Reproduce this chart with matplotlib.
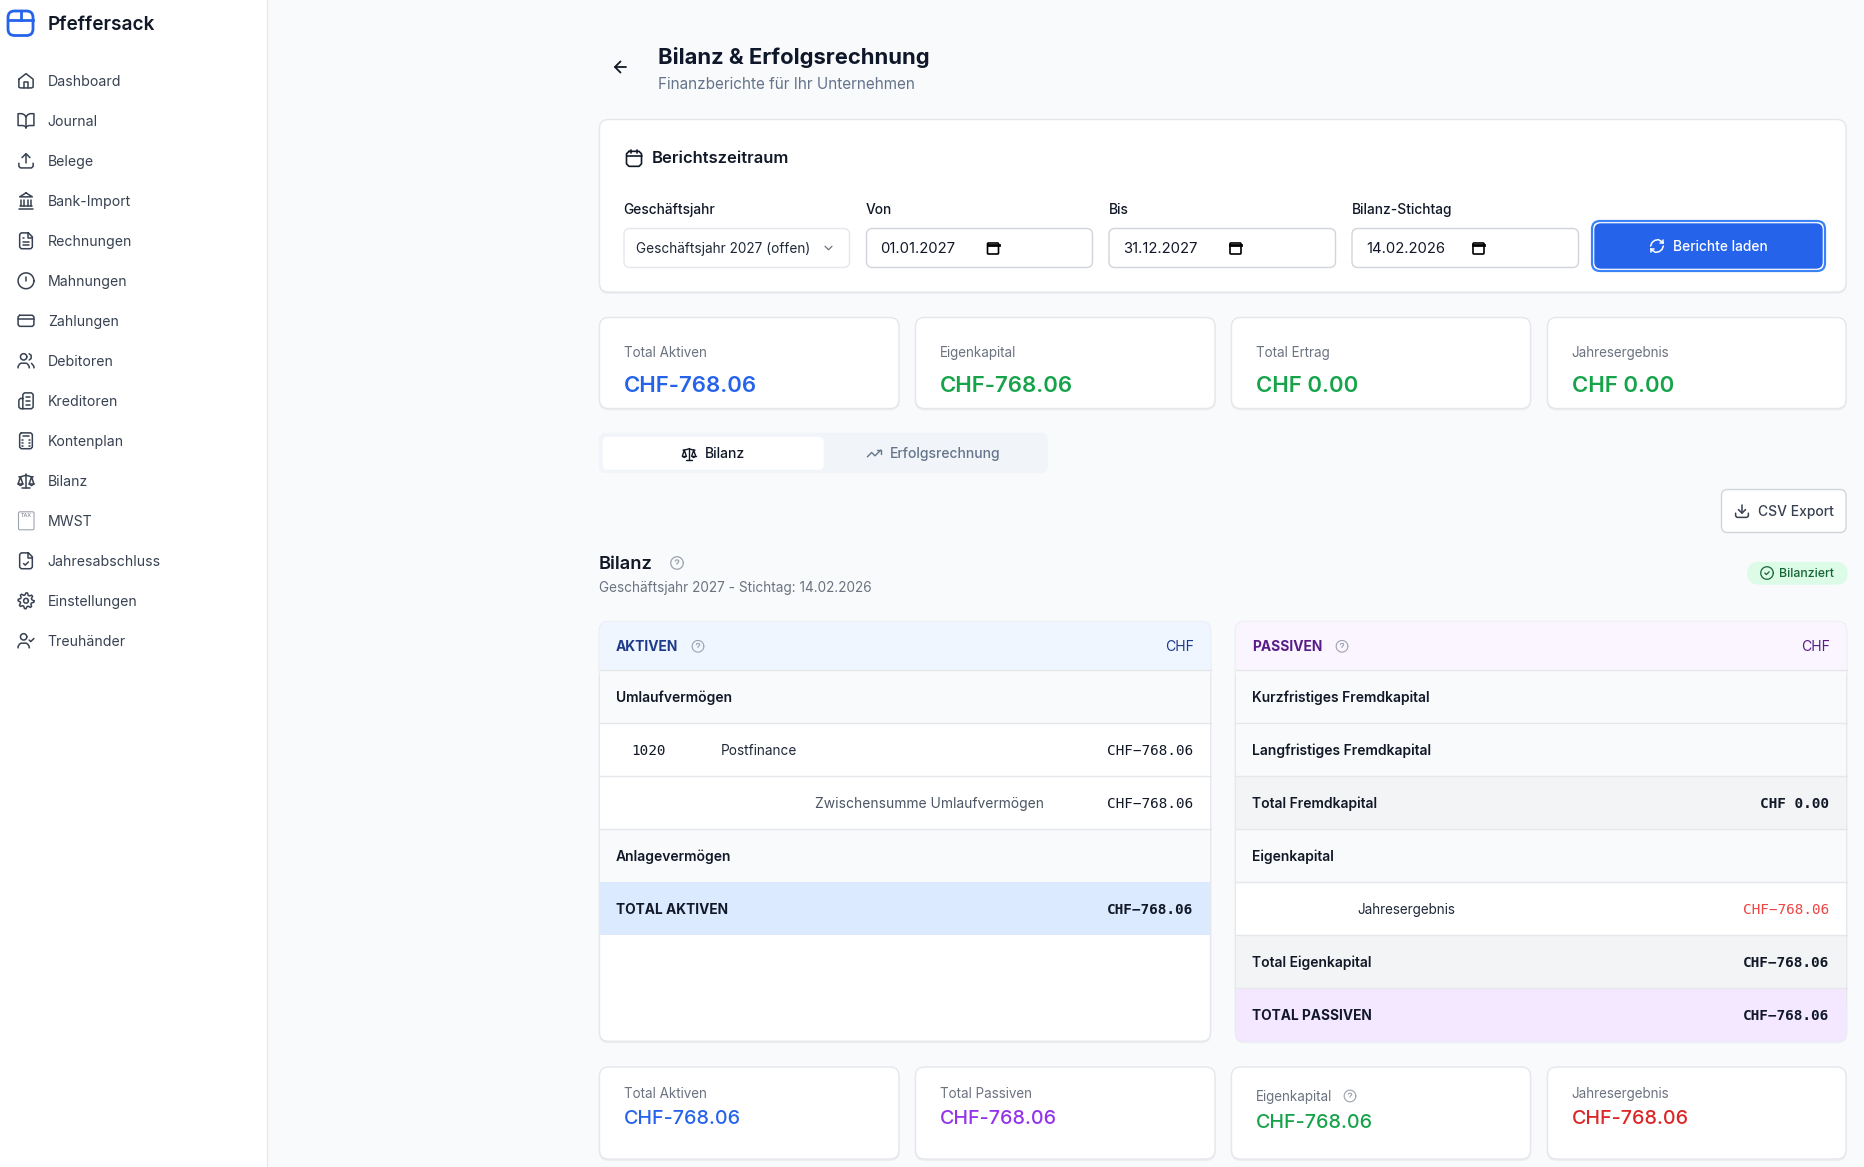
import numpy as np
from matplotlib import pyplot as plt
from matplotlib.patches import FancyBboxPatch

plt.rcParams["font.family"] = ["Inter", "DejaVu Sans"]

NAV_ITEMS = ["Dashboard", "Journal", "Belege", "Bank-Import", "Rechnungen", "Mahnungen", "Zahlungen",
             "Debitoren", "Kreditoren", "Kontenplan", "Bilanz", "MWST", "Jahresabschluss",
             "Einstellungen", "Treuhänder"]
FIELD_LABELS = ["Geschäftsjahr", "Von", "Bis", "Bilanz-Stichtag"]
FIELD_VALUES = ["Geschäftsjahr 2027 (offen)", "01.01.2027", "31.12.2027", "14.02.2026"]
TOP_LABELS = ["Total Aktiven", "Eigenkapital", "Total Ertrag", "Jahresergebnis"]
TOP_VALUES = ["CHF-768.06", "CHF-768.06", "CHF 0.00", "CHF 0.00"]
BOTTOM_LABELS = ["Total Aktiven", "Total Passiven", "Eigenkapital", "Jahresergebnis"]
BOTTOM_VALUES = ["CHF-768.06", "CHF-768.06", "CHF-768.06", "CHF-768.06"]
AKTIVEN_LABELS = ["Umlaufvermögen", "Postfinance", "Zwischensumme Umlaufvermögen", "Anlagevermögen", "TOTAL AKTIVEN"]
AKTIVEN_VALUES = ["", "CHF−768.06", "CHF−768.06", "", "CHF−768.06"]
PASSIVEN_LABELS = ["Kurzfristiges Fremdkapital", "Langfristiges Fremdkapital", "Total Fremdkapital", "Eigenkapital",
                   "Jahresergebnis", "Total Eigenkapital", "TOTAL PASSIVEN"]
PASSIVEN_VALUES = ["", "", "CHF 0.00", "", "CHF−768.06", "CHF−768.06", "CHF−768.06"]

INK = "#111827"
SLATE = "#64748b"
GRAY = "#6b7280"
BORDER = "#e5e7eb"
BLUE = "#2563eb"
GREEN = "#16a34a"
RED = "#dc2626"
PURPLE = "#9333ea"
MONO = "DejaVu Sans Mono"

fig = plt.figure(figsize=(18.64, 11.67), dpi=100, facecolor="#f9fafb")
ax = fig.add_axes([0, 0, 1, 1])
ax.set_xlim(0, 1864)
ax.set_ylim(1167, 0)
ax.axis("off")


def box(x0, y0, x1, y1, fc="white", ec=BORDER, r=9, lw=1.0, z=1):
    ax.add_patch(FancyBboxPatch((x0, y0), x1 - x0, y1 - y0, boxstyle=f"round,pad=0,rounding_size={r}",
                                fc=fc, ec=ec, lw=lw, zorder=z))


def card(x0, y0, x1, y1, r=9):
    box(x0, y0 + 1.2, x1, y1 + 1.2, fc="#eceef2", ec="#eceef2", r=r, z=0.5)
    box(x0, y0, x1, y1, r=r)


def rect(x0, y0, x1, y1, fc):
    ax.fill([x0, x1, x1, x0], [y0, y0, y1, y1], color=fc, lw=0, zorder=2)


def txt(x, y, s, px, color=INK, weight="normal", ha="left", family=None):
    ax.text(x, y - 0.7, s, fontsize=px * 0.72, color=color, weight=weight, ha=ha, va="center_baseline",
            family=family or ["Inter", "DejaVu Sans"], zorder=5)


def circle(cx, cy, r):
    t = np.linspace(0, 2 * np.pi, 40)
    return list(zip(cx + r * np.cos(t), cy + r * np.sin(t)))


def icon(cx, cy, size, paths, color="#374151", lw=1.1):
    k = size / 24
    for p in paths:
        p = np.array(p, dtype=float)
        ax.plot(cx + (p[:, 0] - 12) * k, cy + (p[:, 1] - 12) * k, color=color, lw=lw, zorder=5,
                solid_capstyle="round", solid_joinstyle="round")


def gear():
    t = np.linspace(0, 2 * np.pi, 33)
    r = 10 - 2.6 * (np.arange(33) % 4 >= 2)
    return [list(zip(12 + r * np.cos(t), 12 + r * np.sin(t))), circle(12, 12, 3)]


PERSON = [(2, 21), (2, 19), (4, 16), (6, 15), (12, 15), (14, 16), (16, 19), (16, 21)]
DOC = [(15, 2), (6, 2), (4, 4), (4, 20), (6, 22), (18, 22), (20, 20), (20, 7), (15, 2)]
SCALE = [[(12, 3), (12, 21)], [(7, 21), (17, 21)], [(3, 7), (5, 7), (12, 5), (19, 7), (21, 7)],
         [(5, 7), (2, 16), (5, 18), (8, 16), (5, 7)], [(19, 7), (16, 16), (19, 18), (22, 16), (19, 7)],
         [(2, 16), (8, 16)], [(16, 16), (22, 16)]]
HELP = [circle(12, 12, 10), [(9.2, 9), (10, 7.5), (12, 7), (14, 7.5), (15, 9), (14, 11), (12, 12.5), (12, 14)],
        [(12, 17), (12.01, 17)]]
CALC_DOTS = [[(x, y), (x + 1, y)] for y in (11, 14.5, 18) for x in (7.5, 11.5, 15.5)]
NAV_ICONS = [
    [[(3, 10), (12, 3), (21, 10), (21, 20), (19, 21), (5, 21), (3, 20), (3, 10)], [(9, 21), (9, 13), (15, 13), (15, 21)]],
    [[(12, 7), (12, 21)], [(12, 7), (10, 4.5), (7, 3), (2, 3), (2, 18), (8, 18), (11, 19), (12, 21), (13, 19), (16, 18),
                           (22, 18), (22, 3), (17, 3), (14, 4.5), (12, 7)]],
    [[(3, 15), (3, 19), (5, 21), (19, 21), (21, 19), (21, 15)], [(7, 8), (12, 3), (17, 8)], [(12, 3), (12, 15)]],
    [[(3, 22), (21, 22)], [(6, 18), (6, 11)], [(10, 18), (10, 11)], [(14, 18), (14, 11)], [(18, 18), (18, 11)],
     [(12, 2), (20, 7), (4, 7), (12, 2)], [(4, 19), (20, 19)]],
    [DOC, [(14, 2), (14, 8), (20, 8)], [(8, 13), (16, 13)], [(8, 17), (16, 17)], [(8, 9), (10, 9)]],
    [circle(12, 12, 10), [(12, 7.5), (12, 12.5)], [(12, 16), (12.2, 16)]],
    [[(4, 5), (20, 5), (22, 7), (22, 17), (20, 19), (4, 19), (2, 17), (2, 7), (4, 5)], [(2, 10), (22, 10)]],
    [circle(9, 7, 4), PERSON, [(16, 3.1), (18.5, 5), (18.5, 9), (16, 11)], [(22, 21), (22, 19), (19, 15.2)]],
    [[(8, 22), (8, 4), (10, 2), (19, 2), (21, 4), (21, 20), (19, 22), (5, 22), (3, 20), (3, 11), (5, 9), (8, 9)],
     [(12, 7), (17, 7)], [(12, 12), (17, 12)], [(12, 17), (17, 17)]],
    [[(6, 2), (18, 2), (20, 4), (20, 20), (18, 22), (6, 22), (4, 20), (4, 4), (6, 2)], [(8, 6), (16, 6)]] + CALC_DOTS,
    SCALE,
    None,
    [DOC, [(14, 2), (14, 8), (20, 8)], [(9, 15.5), (11, 17.5), (15, 13.5)]],
    gear(),
    [circle(9, 7, 4), PERSON, [(16, 11), (18, 13), (22, 9)]],
]

# sidebar
rect(0, 0, 267, 1167, "white")
ax.plot([267, 267], [0, 1167], color=BORDER, lw=0.9, zorder=3)
box(8, 11, 33, 35.5, fc="none", ec=BLUE, r=6.5, lw=2.0, z=5)
ax.plot([8, 33], [19.5, 19.5], color=BLUE, lw=2.0, zorder=5)
ax.plot([20.5, 20.5], [11, 19.5], color=BLUE, lw=2.0, zorder=5)
txt(48, 23.5, "Pfeffersack", 19, weight="semibold")
for i, (name, paths) in enumerate(zip(NAV_ITEMS, NAV_ICONS)):
    y = 80.8 + 40 * i
    txt(47.7, y + 0.5, name, 14.1, "#374151")
    if paths:
        icon(26, y, 19, paths)
    else:
        box(18.5, y - 9, 34, y + 9, fc="white", ec="#9ca3af", r=1.5, lw=0.8, z=5)
        txt(26.2, y - 5, "TAX", 5.5, "#6b7280", ha="center")

# page header
icon(620.5, 67, 19, [[(19, 12), (5, 12)], [(12, 19), (5, 12), (12, 5)]], INK, 1.3)
txt(658.5, 56, "Bilanz & Erfolgsrechnung", 22, "#0f172a", "bold")
txt(658.5, 83.5, "Finanzberichte für Ihr Unternehmen", 15.3, SLATE)

# period card
card(599.5, 119.5, 1846, 292)
icon(634, 158, 20, [[(6, 4), (18, 4), (21, 7), (21, 19), (18, 22), (6, 22), (3, 19), (3, 7), (6, 4)], [(8, 2), (8, 6)], [(16, 2), (16, 6)], [(3, 10), (21, 10)]], INK, 1.2)
txt(652, 158, "Berichtszeitraum", 16.6, INK, "semibold")
field_x = [(624, 849.5), (866.5, 1092.5), (1109, 1335.5), (1352, 1578.5)]
for i, (x0, x1) in enumerate(field_x):
    txt(x0 - 0.5, 209.3, FIELD_LABELS[i], 13.8, INK, "medium")
    box(x0, 228.5, x1, 267.5, ec=BORDER if i == 0 else "#d1d5db", r=6)
    if i == 0:
        txt(x0 + 12.5, 248, FIELD_VALUES[i], 13.65, "#1f2937")
        icon(828.5, 248, 14, [[(6, 9), (12, 15), (18, 9)]], "#6b7280", 0.9)
    else:
        txt(x0 + 14, 248, FIELD_VALUES[i], 14.8, "#111827")
        ic = x0 + 126.5
        box(ic - 5.5, 243, ic + 5.5, 254, fc="none", ec="black", r=1, lw=1.2, z=5)
        ax.plot([ic - 5.5, ic + 5.5], [244.8, 244.8], color="black", lw=2.0, zorder=5)
box(1592, 221, 1825, 271, fc="white", ec="#3b82f6", r=8, lw=1.6, z=3)
box(1595, 224, 1822, 268, fc=BLUE, ec=BLUE, r=6, z=4)
icon(1657, 246, 17, [[(3, 12), (5, 7), (9, 4), (14, 3), (19, 6), (21, 8)], [(21, 3), (21, 8), (16, 8)],
                     [(21, 12), (19, 17), (15, 20), (10, 21), (5, 18), (3, 16)], [(8, 16), (3, 16), (3, 21)]], "white", 1.1)
txt(1673, 246, "Berichte laden", 13.8, "white", "medium")

# summary cards
card_x = [(599.5, 899), (915.5, 1215), (1231.5, 1530.5), (1547.5, 1846)]
top_colors = [BLUE, GREEN, GREEN, GREEN]
for i, (x0, x1) in enumerate(card_x):
    card(x0, 317.5, x1, 408.5)
    txt(x0 + 24, 352.5, TOP_LABELS[i], 13.45, GRAY)
    txt(x0 + 24, 384.5, TOP_VALUES[i], 22.2, top_colors[i], "semibold")

# tabs
box(599.5, 433.5, 1047, 472.5, fc="#f1f5f9", ec="#f1f5f9", r=6)
box(603.5, 437.5, 823, 469, fc="white", ec="white", r=4, z=2)
icon(689, 453.5, 16, SCALE, INK, 1.0)
txt(705, 453.5, "Bilanz", 13.9, INK, "medium")
icon(874, 453.5, 16, [[(2, 17), (8.5, 10.5), (13.5, 15.5), (22, 7)], [(16, 7), (22, 7), (22, 13)]], SLATE, 1.0)
txt(890, 453.5, "Erfolgsrechnung", 13.9, SLATE, "medium")

# csv export
box(1721.5, 489.5, 1846, 532.5, ec="#d1d5db", r=6)
icon(1742, 511, 17, [[(3, 15), (3, 19), (5, 21), (19, 21), (21, 19), (21, 15)], [(7, 10), (12, 15), (17, 10)], [(12, 15), (12, 3)]], "#374151", 1.1)
txt(1758, 511, "CSV Export", 13.9, "#374151", "medium")

# section heading
txt(599, 563.5, "Bilanz", 18.3, INK, "semibold")
icon(677, 563, 15, HELP, "#9ca3af", 0.9)
txt(599, 587.5, "Geschäftsjahr 2027 - Stichtag: 14.02.2026", 13.6, GRAY)
box(1748, 562.5, 1847, 584, fc="#dcfce7", ec="#dcfce7", r=10.7)
icon(1767, 573, 15, [circle(12, 12, 10), [(8.5, 12), (11, 14.5), (15.5, 10)]], "#166534", 0.9)
txt(1779.5, 573, "Bilanziert", 12.3, "#166534", "medium")

# balance tables
ROW_EDGES = [670.4 + 53 * i for i in range(8)]


def table_frame(x0, x1, head_fc, title, title_color, help_x):
    card(x0, 621.5, x1, 1041.3)
    box(x0 + 0.5, 622, x1 - 0.5, 680, fc=head_fc, ec=head_fc, r=8.5, z=1.5)
    rect(x0 + 0.5, 640, x1 - 0.5, ROW_EDGES[0], head_fc)
    ax.plot([x0, x1], [ROW_EDGES[0]] * 2, color=BORDER, lw=1, zorder=3)
    txt(x0 + 16.5, 646.5, title, 13.8, title_color, "bold")
    icon(help_x, 646.3, 14, HELP, "#9ca3af", 0.8)
    txt(x1 - 17, 646.5, "CHF", 14, title_color, ha="right")


def table_row(x0, x1, i, fc, line=True):
    rect(x0 + 0.5, ROW_EDGES[i], x1 - 0.5, ROW_EDGES[i + 1], fc)
    if line:
        ax.plot([x0, x1], [ROW_EDGES[i + 1]] * 2, color=BORDER, lw=1, zorder=3)


AK0, AK1 = 599.5, 1210.5
table_frame(AK0, AK1, "#eff6ff", "AKTIVEN", "#1e3a8a", 698)
ak_fills = ["#f9fafb", "white", "white", "#f9fafb", "#dbeafe"]
for i, (label, value) in enumerate(zip(AKTIVEN_LABELS, AKTIVEN_VALUES)):
    y = (ROW_EDGES[i] + ROW_EDGES[i + 1]) / 2
    table_row(AK0, AK1, i, ak_fills[i], line=i < 3)
    if label == "Postfinance":
        txt(631.5, y, "1020", 14.4, INK, family=MONO)
        txt(720.5, y, label, 13.6, "#1f2937")
    elif label.startswith("Zwischensumme"):
        txt(1044, y, label, 13.85, "#4b5563", ha="right")
    elif label.startswith("TOTAL"):
        txt(616, y, label, 13.7, INK, "bold")
    else:
        txt(616, y, label, 13.9, INK, "semibold")
    if value:
        txt(1193.5, y, value, 14.4, INK, "bold" if i == 4 else "normal", "right", MONO)

PA0, PA1 = 1235.5, 1846.5
table_frame(PA0, PA1, "#faf5ff", "PASSIVEN", "#581c87", 1342)
pa_fills = ["#f9fafb", "#f9fafb", "#f3f4f6", "#f9fafb", "white", "#f3f4f6", "#f3e8ff"]
for i, (label, value) in enumerate(zip(PASSIVEN_LABELS, PASSIVEN_VALUES)):
    y = (ROW_EDGES[i] + ROW_EDGES[i + 1]) / 2
    if i == 6:
        box(PA0 + 0.5, ROW_EDGES[i] + 10, PA1 - 0.5, ROW_EDGES[i + 1] - 0.2, fc=pa_fills[i], ec=pa_fills[i], r=8.5, z=1.5)
        rect(PA0 + 0.5, ROW_EDGES[i], PA1 - 0.5, ROW_EDGES[i] + 30, pa_fills[i])
    else:
        table_row(PA0, PA1, i, pa_fills[i])
    if label == "Jahresergebnis":
        txt(1357.5, y, label, 13.5, "#1f2937")
        txt(1829, y, value, 14.4, "#ef4444", "normal", "right", MONO)
    else:
        txt(1252, y, label, 13.7 if i == 6 else 13.9, INK, "bold" if i == 6 else "semibold")
        if value:
            txt(1829, y, value, 14.4, INK, "bold", "right", MONO)

# lower cards
bottom_colors = [BLUE, PURPLE, GREEN, RED]
for i, (x0, x1) in enumerate(card_x):
    card(x0, 1067, x1, 1159)
    off = 3 if i == 2 else 0
    txt(x0 + 24, 1093.5 + off, BOTTOM_LABELS[i], 13.45, GRAY)
    txt(x0 + 24, 1117.5 + off * 1.3, BOTTOM_VALUES[i], 19.6, bottom_colors[i], "medium")
icon(1350, 1096, 14, HELP, "#9ca3af", 0.8)

fig.savefig("out.png", dpi=100, facecolor=fig.get_facecolor())
